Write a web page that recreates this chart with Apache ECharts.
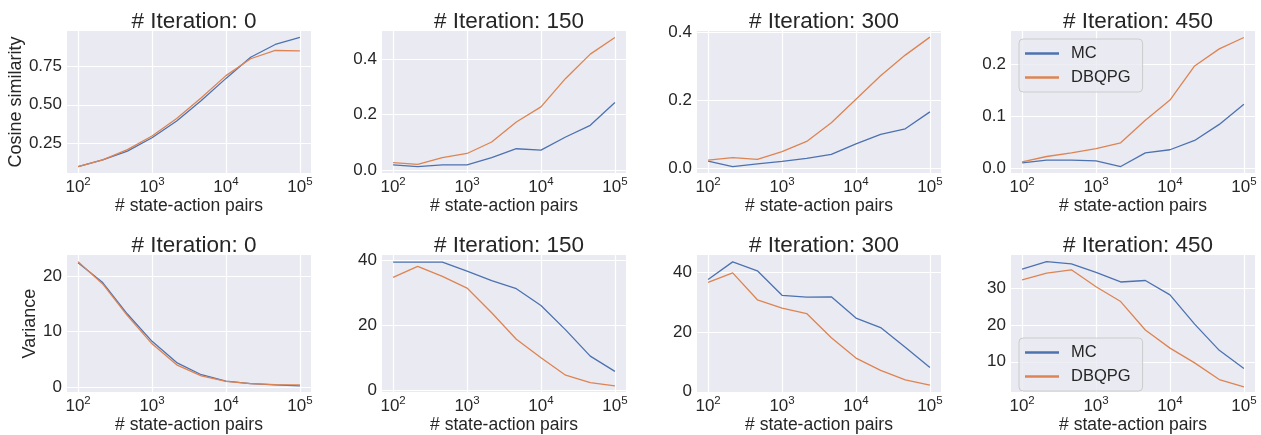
<!DOCTYPE html>
<html>
<head>
<meta charset="utf-8">
<script src="https://cdn.jsdelivr.net/npm/echarts@6/dist/echarts.min.js"></script>
<style>
html,body{margin:0;padding:0;background:#ffffff;}
#chart{width:1261px;height:435px;}
</style>
</head>
<body>
<div id="chart"></div>
<script>
// ---------- data ----------
const iterations = [0, 150, 300, 450];
const nPairs = [100, 215, 464, 1000, 2154, 4642, 10000, 21544, 46416, 100000];
const xTicks = [100, 1000, 10000, 100000];

const cosMC0   = [0.097, 0.141, 0.198, 0.285, 0.394, 0.528, 0.672, 0.810, 0.893, 0.939];
const cosDB0   = [0.097, 0.141, 0.207, 0.296, 0.410, 0.546, 0.690, 0.800, 0.854, 0.852];
const cosMC150 = [0.020, 0.014, 0.020, 0.020, 0.046, 0.078, 0.073, 0.120, 0.162, 0.244];
const cosDB150 = [0.028, 0.022, 0.046, 0.061, 0.102, 0.174, 0.228, 0.330, 0.417, 0.477];
const cosMC300 = [0.020, 0.004, 0.012, 0.019, 0.028, 0.040, 0.071, 0.099, 0.115, 0.165];
const cosDB300 = [0.023, 0.030, 0.025, 0.048, 0.078, 0.133, 0.202, 0.271, 0.332, 0.385];
const cosMC450 = [0.0097, 0.015, 0.015, 0.0136, 0.0026, 0.029, 0.035, 0.053, 0.084, 0.123];
const cosDB450 = [0.0117, 0.022, 0.029, 0.037, 0.0485, 0.092, 0.131, 0.197, 0.230, 0.252];

const varMC0   = [22.5, 18.9, 13.2, 8.25, 4.4, 2.2, 1.05, 0.58, 0.35, 0.18];
const varDB0   = [22.7, 18.65, 12.9, 7.8, 4.0, 2.0, 1.0, 0.58, 0.40, 0.35];
const varMC150 = [39.4, 39.4, 39.4, 36.6, 33.7, 31.2, 26.0, 18.5, 10.4, 5.7];
const varDB150 = [34.7, 38.1, 35.0, 31.4, 23.8, 15.6, 9.9, 4.5, 2.2, 1.2];
const varMC300 = [37.6, 43.5, 40.5, 32.3, 31.7, 31.8, 24.7, 21.5, 14.9, 8.1];
const varDB300 = [36.6, 39.8, 30.8, 28.0, 26.2, 18.1, 11.3, 7.2, 4.0, 2.2];
const varMC450 = [35.1, 37.1, 36.5, 34.2, 31.6, 32.0, 28.1, 20.2, 13.1, 8.2];
const varDB450 = [32.2, 34.0, 34.9, 30.3, 26.3, 18.6, 13.7, 9.7, 5.2, 3.2];

const cosYTicks = [[0.25, 0.5, 0.75], [0.0, 0.2, 0.4], [0.0, 0.2, 0.4], [0.0, 0.1, 0.2]];
const varYTicks = [[0, 10, 20], [0, 20, 40], [0, 20, 40], [10, 20, 30]];
const cosYRange = [[0.055, 0.981], [-0.009, 0.500], [-0.015, 0.403], [-0.0099, 0.2645]];
const varYRange = [[-0.95, 23.9], [-0.7, 41.6], [-0.1, 45.8], [1.8, 38.9]];
const cosDecimals = [2, 1, 1, 1];

const seriesNames = ['MC', 'DBQPG'];
const yNames = ['Cosine similarity', 'Variance'];
const xName = '# state-action pairs';

// ---------- layout ----------
const FONT = '"Liberation Sans", Arial, sans-serif';
const TXT = '#262626';
const colors = ['#4C72B0', '#DD8452'];
const colLeft = [67, 382, 697, 1011];
const rowTop = [31, 255];
const gridW = 244, gridH = 142;

const cosMC = [cosMC0, cosMC150, cosMC300, cosMC450];
const cosDB = [cosDB0, cosDB150, cosDB300, cosDB450];
const varMC = [varMC0, varMC150, varMC300, varMC450];
const varDB = [varDB0, varDB150, varDB300, varDB450];

const grids = [], xAxes = [], yAxes = [], series = [], titles = [], legends = [];

function pairs(ys) { return nPairs.map((x, i) => [x, ys[i]]); }

for (let r = 0; r < 2; r++) {
  for (let c = 0; c < 4; c++) {
    const idx = r * 4 + c;
    grids.push({left: colLeft[c], top: rowTop[r], width: gridW, height: gridH,
      show: true, backgroundColor: '#EAEAF2', borderWidth: 0});
    titles.push({text: '# Iteration: ' + iterations[c], left: colLeft[c] + gridW / 2, top: rowTop[r] - 26,
      textAlign: 'center',
      textStyle: {fontFamily: FONT, fontSize: 22.5, fontWeight: 'normal', color: TXT}});
    xAxes.push({type: 'log', logBase: 10, gridIndex: idx, min: 70.79, max: 141254,
      name: xName, nameLocation: 'middle', nameGap: 18,
      nameTextStyle: {fontFamily: FONT, fontSize: 17.5, color: TXT},
      axisLine: {show: false}, axisTick: {show: false, customValues: xTicks},
      splitLine: {show: true, lineStyle: {color: '#ffffff', width: 1.2}},
      axisLabel: {customValues: xTicks, margin: 3, color: TXT,
        formatter: v => '{b|10}{s|' + Math.round(Math.log10(v)) + '}',
        rich: {b: {fontFamily: FONT, fontSize: 17, color: TXT, lineHeight: 20, verticalAlign: 'bottom'},
               s: {fontFamily: FONT, fontSize: 11.5, color: TXT, lineHeight: 11, verticalAlign: 'top'}}}
    });
    const yt = r === 0 ? cosYTicks[c] : varYTicks[c];
    const yr = r === 0 ? cosYRange[c] : varYRange[c];
    const dec = r === 0 ? cosDecimals[c] : 0;
    yAxes.push({type: 'value', gridIndex: idx, min: yr[0], max: yr[1],
      name: c === 0 ? yNames[r] : '', nameLocation: 'middle', nameGap: r === 0 ? 40 : 25, nameRotate: 90,
      nameTextStyle: {fontFamily: FONT, fontSize: 18, color: TXT},
      axisLine: {show: false}, axisTick: {show: false, customValues: yt},
      splitLine: {show: true, lineStyle: {color: '#ffffff', width: 1.2}},
      axisLabel: {customValues: yt, margin: 5, fontFamily: FONT, fontSize: 17, color: TXT,
        formatter: v => Number(v).toFixed(dec)}
    });
    const a = r === 0 ? cosMC[c] : varMC[c];
    const b = r === 0 ? cosDB[c] : varDB[c];
    [a, b].forEach((ys, k) => {
      series.push({type: 'line', name: seriesNames[k], xAxisIndex: idx, yAxisIndex: idx,
        data: pairs(ys), symbol: 'none', silent: true, animation: false,
        lineStyle: {color: colors[k], width: 1.3}, itemStyle: {color: colors[k]}});
    });
  }
}

const legendCommon = {
  orient: 'vertical', icon: 'rect', itemWidth: 34, itemHeight: 2.5, itemGap: 7,
  padding: [6, 12, 6, 6], backgroundColor: 'rgba(234,234,242,0.8)', borderColor: '#cccccc',
  borderWidth: 1, borderRadius: 4, data: seriesNames,
  textStyle: {fontFamily: FONT, fontSize: 16.5, color: TXT, padding: [0, 0, 0, 7]}
};
legends.push(Object.assign({}, legendCommon, {left: 1019, top: 39}));
legends.push(Object.assign({}, legendCommon, {left: 1019, top: 338}));

const chart = echarts.init(document.getElementById('chart'), null, {renderer: 'canvas'});
chart.setOption({
  animation: false,
  color: colors,
  title: titles,
  grid: grids,
  xAxis: xAxes,
  yAxis: yAxes,
  legend: legends,
  series: series
});
</script>
</body>
</html>
